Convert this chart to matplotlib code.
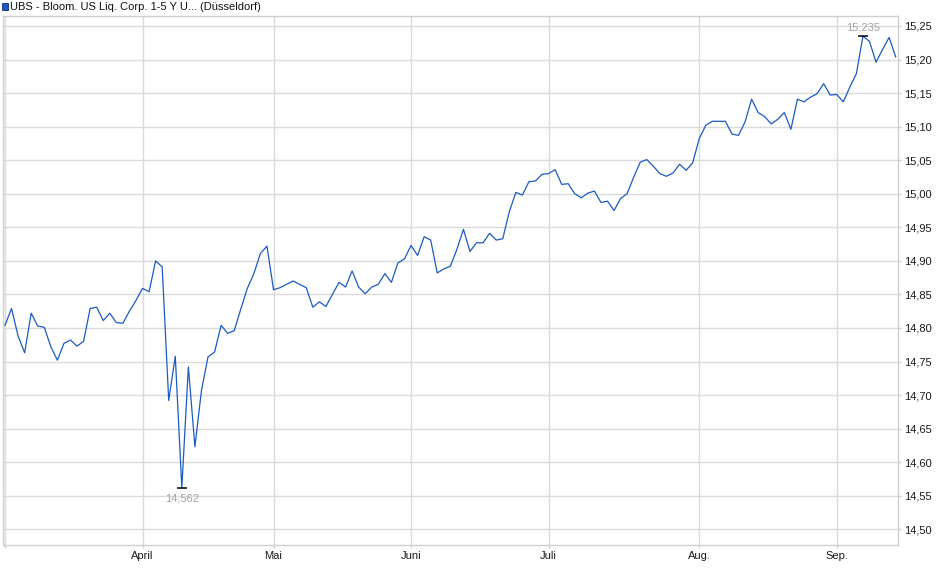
import numpy as np
import pandas as pd
import matplotlib
matplotlib.use('Agg')
import matplotlib.pyplot as plt
from matplotlib.patches import Rectangle
from matplotlib.ticker import FuncFormatter, MultipleLocator

title = 'UBS - Bloom. US Liq. Corp. 1-5 Y U... (Düsseldorf)'

# trading days Düsseldorf, 3 Mar - 12 Sep 2025
holidays = ['2025-04-18', '2025-04-21', '2025-05-01']
dates = pd.bdate_range('2025-03-03', '2025-09-12')
dates = dates[~dates.isin(pd.to_datetime(holidays))]

prices = [
    14.804, 14.829, 14.788, 14.763, 14.822, 14.803, 14.801, 14.772, 14.752, 14.777,
    14.782, 14.773, 14.780, 14.829, 14.831, 14.811, 14.822, 14.808, 14.807, 14.825,
    14.841, 14.859, 14.854, 14.900, 14.891, 14.692, 14.758, 14.562, 14.742, 14.623,
    14.707, 14.757, 14.764, 14.804, 14.792, 14.796, 14.828, 14.859, 14.881, 14.911,
    14.922, 14.857, 14.860, 14.865, 14.870, 14.865, 14.860, 14.831, 14.839, 14.832,
    14.850, 14.868, 14.861, 14.885, 14.861, 14.851, 14.861, 14.865, 14.881, 14.868,
    14.897, 14.903, 14.923, 14.908, 14.936, 14.931, 14.882, 14.888, 14.892, 14.917,
    14.947, 14.914, 14.927, 14.927, 14.941, 14.931, 14.933, 14.973, 15.002, 14.998,
    15.018, 15.019, 15.029, 15.030, 15.036, 15.014, 15.015, 15.000, 14.994, 15.001,
    15.004, 14.987, 14.989, 14.975, 14.993, 15.000, 15.025, 15.047, 15.051, 15.041,
    15.030, 15.026, 15.031, 15.044, 15.035, 15.046, 15.082, 15.102, 15.108, 15.108,
    15.108, 15.089, 15.087, 15.107, 15.141, 15.121, 15.115, 15.104, 15.111, 15.121,
    15.096, 15.141, 15.137, 15.144, 15.149, 15.164, 15.147, 15.148, 15.137, 15.159,
    15.179, 15.235, 15.227, 15.196, 15.215, 15.233, 15.204,
]

month_names = {3: '', 4: 'April', 5: 'Mai', 6: 'Juni', 7: 'Juli', 8: 'Aug.', 9: 'Sep.'}

plt.rcParams['font.family'] = ['Liberation Sans', 'DejaVu Sans']
plt.rcParams['font.size'] = 8

W, H = 940, 579
fig = plt.figure(figsize=(W / 100, H / 100), dpi=100)
ax = fig.add_axes([2.7 / W, 1 - 545 / H, (898.3 - 2.7) / W, (545 - 16) / H])

x = np.arange(len(prices))
y = np.array(prices)
line_color = '#1c5ac2'
ax.plot(x, y, color=line_color, lw=0.9, zorder=3)

# month gridlines at first trading day of each month
months = dates.month
first_idx = [0] + [i for i in range(1, len(dates)) if months[i] != months[i - 1]]
ax.set_xticks(first_idx)
ax.set_xticklabels([month_names[months[i]] for i in first_idx])

ax.set_xlim(-0.35, 136.4)
ax.set_ylim(14.4766, 15.2649)
ax.yaxis.set_major_locator(MultipleLocator(0.05))
ax.yaxis.set_major_formatter(FuncFormatter(lambda v, p: f'{v:.2f}'.replace('.', ',')))
ax.yaxis.tick_right()

grid_c = '#dadada'
ax.grid(True, color=grid_c, lw=1, zorder=0)
for s in ax.spines.values():
    s.set_color('#cfcfcf')
    s.set_linewidth(1)
ax.tick_params(axis='both', colors='#cfcfcf', labelcolor='#1a1a1a', length=2, width=1)
ax.tick_params(axis='x', pad=2)
ax.tick_params(axis='y', pad=2)

# min / max markers
imin, imax = int(np.argmin(y)), int(np.argmax(y))
for i, dy, va in [(imin, -7.5, 'center'), (imax, 6.5, 'center')]:
    ax.plot([x[i]], [y[i]], marker='_', ms=7.5, mew=1.1, color='black', zorder=4)
    ax.annotate(f'{y[i]:.3f}'.replace('.', ','), (x[i], y[i]), xytext=(0, dy),
                textcoords='offset points', ha='center', va=va,
                color='#a3a3a3', fontsize=8, zorder=5)

# legend square + title
fig.patches.append(Rectangle((1.5 / W, 1 - 9.5 / H), 6.5 / W, 6.5 / H,
                             transform=fig.transFigure, facecolor='#1f5bbd',
                             edgecolor='#0e3175', lw=0.6))
fig.text(10.5 / W, 1 - 6.5 / H, title, ha='left', va='center', fontsize=8, color='#111111')

fig.savefig('out.png', dpi=100)
